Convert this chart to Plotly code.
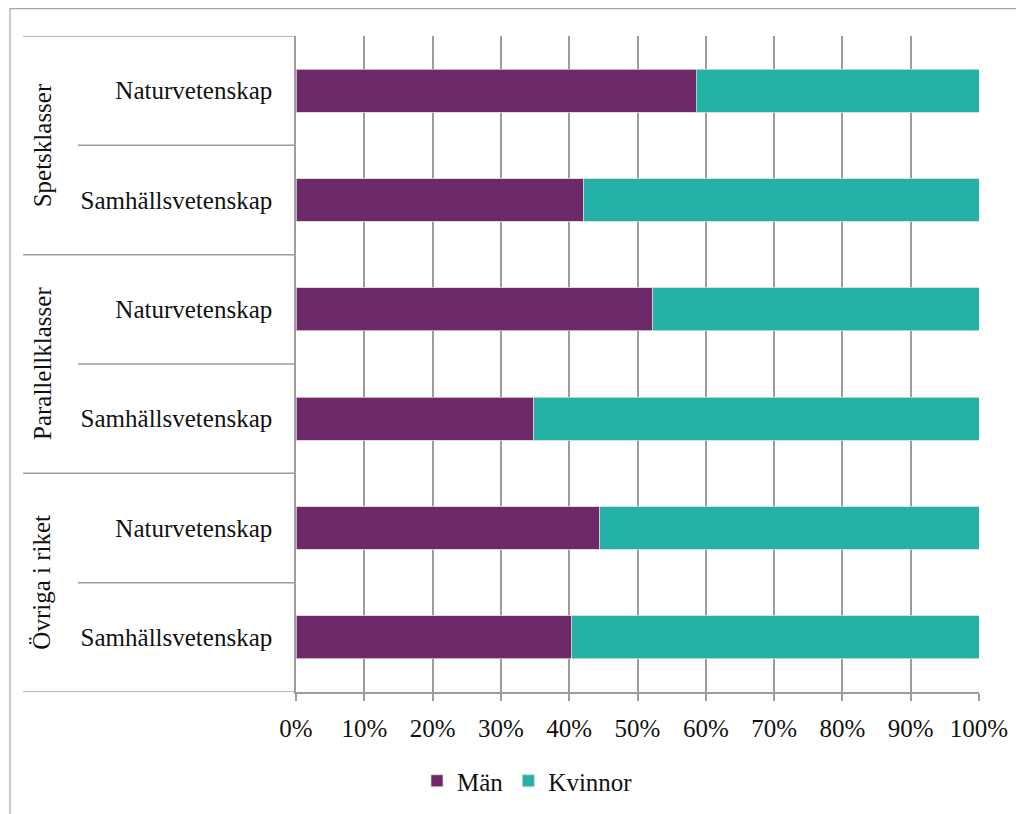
import plotly.graph_objects as go

groups = ["Spetsklasser", "Parallellklasser", "Övriga i riket"]
subjects = ["Naturvetenskap", "Samhällsvetenskap",
            "Naturvetenskap", "Samhällsvetenskap",
            "Naturvetenskap", "Samhällsvetenskap"]
man = [58.6, 42.1, 52.2, 34.8, 44.5, 40.4]
kvinnor = [41.4, 57.9, 47.8, 65.2, 55.5, 59.6]
x_ticks = [0, 10, 20, 30, 40, 50, 60, 70, 80, 90, 100]
x_tick_labels = ["0%", "10%", "20%", "30%", "40%", "50%",
                 "60%", "70%", "80%", "90%", "100%"]

FONT = "Liberation Serif, Times New Roman, DejaVu Serif, serif"
FS = 25
GRID = "#9c9c9c"
TXT = "#111111"
ypos = list(range(len(subjects)))

fig = go.Figure()
fig.add_trace(go.Bar(
    y=ypos, x=man, name="Män", orientation="h",
    marker=dict(color="#6C2869", line=dict(color="#d4d4d4", width=0.8)),
))
fig.add_trace(go.Bar(
    y=ypos, x=kvinnor, name="Kvinnor", orientation="h",
    marker=dict(color="#24B1A6", line=dict(color="#d4d4d4", width=0.8)),
))

# page is offset by 8px body margin
OFF = 8
W, H = 1016, 806
L, T = 296 - OFF, 36 - OFF
R = W - (979 - OFF)
B = H - (692 - OFF)
pw, ph = W - L - R, H - T - B

def px_x(px):
    return (px - OFF - L) / pw

def px_y(py):
    return (H - B - (py - OFF)) / ph

shapes = []
# outer chart border (left and top visible)
shapes.append(dict(type="rect", xref="paper", yref="paper",
                   x0=px_x(10), x1=px_x(1040), y0=px_y(830), y1=px_y(8.6),
                   line=dict(color="#a6a6a6", width=1.2), fillcolor="rgba(0,0,0,0)",
                   layer="below"))
# category divider lines
for b in [-0.5, 1.5, 3.5, 5.5]:
    shapes.append(dict(type="line", xref="paper", yref="y",
                       x0=px_x(23), x1=0, y0=b, y1=b,
                       line=dict(color=GRID, width=1.5)))
for b in [0.5, 2.5, 4.5]:
    shapes.append(dict(type="line", xref="paper", yref="y",
                       x0=px_x(78), x1=0, y0=b, y1=b,
                       line=dict(color=GRID, width=1.5)))

annotations = []
for i, g in enumerate(groups):
    annotations.append(dict(
        text=g, xref="paper", yref="y", x=px_x(42), y=2 * i + 0.5,
        textangle=-90, showarrow=False, xanchor="center", yanchor="middle",
        font=dict(family=FONT, size=FS, color=TXT)))

fig.update_layout(
    width=W, height=H,
    margin=dict(l=L, r=R, t=T, b=B, autoexpand=False),
    barmode="stack", bargap=0.607,
    plot_bgcolor="white", paper_bgcolor="white",
    font=dict(family=FONT, size=FS, color=TXT),
    shapes=shapes, annotations=annotations,
    showlegend=True,
    legend=dict(orientation="h", x=px_x(417), y=px_y(758), xanchor="left",
                yanchor="top", font=dict(family=FONT, size=FS, color=TXT),
                traceorder="normal", itemwidth=30, bgcolor="rgba(0,0,0,0)"),
)
fig.update_xaxes(
    range=[0, 100], tickmode="array", tickvals=x_ticks, ticktext=x_tick_labels,
    showgrid=True, gridcolor=GRID, gridwidth=1.5,
    showline=True, linecolor=GRID, linewidth=1.5,
    ticks="outside", ticklen=7, tickcolor=GRID, tickwidth=1.5,
    ticklabelstandoff=6,
    zeroline=False, tickfont=dict(family=FONT, size=FS, color=TXT),
)
fig.update_yaxes(
    range=[5.5, -0.5], tickmode="array", tickvals=ypos, ticktext=subjects,
    showgrid=False, zeroline=False,
    showline=True, linecolor=GRID, linewidth=1.5,
    ticks="", ticklabelstandoff=17,
    tickfont=dict(family=FONT, size=FS, color=TXT),
)

fig.write_html("out.html")
